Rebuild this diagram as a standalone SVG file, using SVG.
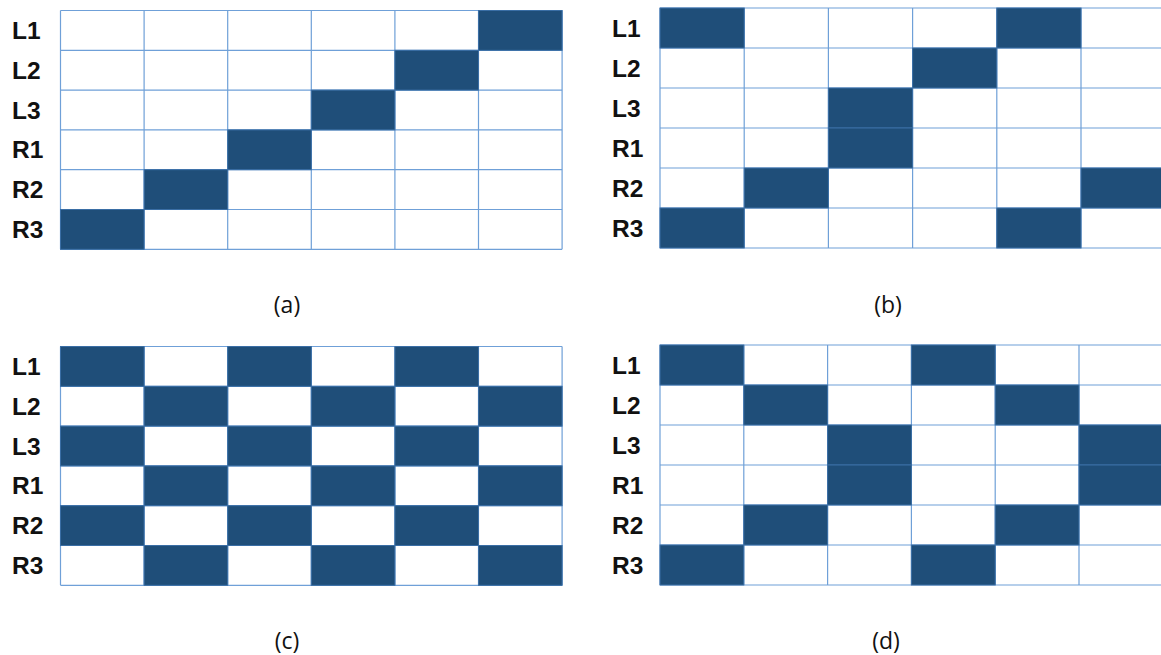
<svg xmlns="http://www.w3.org/2000/svg" width="1161" height="655" viewBox="0 0 1161 655">
<style>
.lbl{font-family:"Liberation Sans",Arial,sans-serif;font-weight:bold;font-size:24.5px;fill:#111}
.cap{font-family:"Open Sans","Liberation Sans",sans-serif;font-size:23px;fill:#111;text-anchor:middle}
.ln{stroke:#6FA0D8;stroke-width:1.2;fill:none}
.on{fill:#1F4E79;stroke:#3A6EA5;stroke-width:1}
</style>
<rect width="1161" height="655" fill="#fff"/>

<g id="grid-a" transform="translate(60.5,10.5)">
<g class="ln">
<path d="M0,0H501.6M0,39.8H501.6M0,79.6H501.6M0,119.4H501.6M0,159.2H501.6M0,199H501.6M0,238.8H501.6"/>
<path d="M0,0V238.8M83.6,0V238.8M167.2,0V238.8M250.8,0V238.8M334.4,0V238.8M418,0V238.8M501.6,0V238.8"/>
</g>
<rect class="on" x="418" y="0" width="83.6" height="39.8"/>
<rect class="on" x="334.4" y="39.8" width="83.6" height="39.8"/>
<rect class="on" x="250.8" y="79.6" width="83.6" height="39.8"/>
<rect class="on" x="167.2" y="119.4" width="83.6" height="39.8"/>
<rect class="on" x="83.6" y="159.2" width="83.6" height="39.8"/>
<rect class="on" x="0" y="199" width="83.6" height="39.8"/>
</g>
<g id="labels-a" class="lbl">
<text x="12" y="39">L1</text><text x="12" y="78.8">L2</text><text x="12" y="118.6">L3</text>
<text x="12" y="158.4">R1</text><text x="12" y="198.2">R2</text><text x="12" y="238">R3</text>
</g>
<text id="cap-a" class="cap" x="287" y="313">(a)</text>

<g id="grid-b" transform="translate(660,8)">
<g class="ln">
<path d="M0,0H510M0,40H510M0,80H510M0,120H510M0,160H510M0,200H510M0,240H510"/>
<path d="M0,0V240M84.2,0V240M168.4,0V240M252.6,0V240M336.8,0V240M421,0V240"/>
</g>
<rect class="on" x="0" y="0" width="84.2" height="40"/>
<rect class="on" x="336.8" y="0" width="84.2" height="40"/>
<rect class="on" x="252.6" y="40" width="84.2" height="40"/>
<rect class="on" x="168.4" y="80" width="84.2" height="40"/>
<rect class="on" x="168.4" y="120" width="84.2" height="40"/>
<rect class="on" x="84.2" y="160" width="84.2" height="40"/>
<rect class="on" x="421" y="160" width="90" height="40"/>
<rect class="on" x="0" y="200" width="84.2" height="40"/>
<rect class="on" x="336.8" y="200" width="84.2" height="40"/>
</g>
<g id="labels-b" class="lbl">
<text x="612" y="36.5">L1</text><text x="612" y="76.5">L2</text><text x="612" y="116.5">L3</text>
<text x="612" y="156.5">R1</text><text x="612" y="196.5">R2</text><text x="612" y="236.5">R3</text>
</g>
<text id="cap-b" class="cap" x="888" y="313">(b)</text>

<g id="grid-c" transform="translate(60.5,346.5)">
<g class="ln">
<path d="M0,0H501.6M0,39.8H501.6M0,79.6H501.6M0,119.4H501.6M0,159.2H501.6M0,199H501.6M0,238.8H501.6"/>
<path d="M0,0V238.8M83.6,0V238.8M167.2,0V238.8M250.8,0V238.8M334.4,0V238.8M418,0V238.8M501.6,0V238.8"/>
</g>
<rect class="on" x="0" y="0" width="83.6" height="39.8"/>
<rect class="on" x="167.2" y="0" width="83.6" height="39.8"/>
<rect class="on" x="334.4" y="0" width="83.6" height="39.8"/>
<rect class="on" x="83.6" y="39.8" width="83.6" height="39.8"/>
<rect class="on" x="250.8" y="39.8" width="83.6" height="39.8"/>
<rect class="on" x="418" y="39.8" width="83.6" height="39.8"/>
<rect class="on" x="0" y="79.6" width="83.6" height="39.8"/>
<rect class="on" x="167.2" y="79.6" width="83.6" height="39.8"/>
<rect class="on" x="334.4" y="79.6" width="83.6" height="39.8"/>
<rect class="on" x="83.6" y="119.4" width="83.6" height="39.8"/>
<rect class="on" x="250.8" y="119.4" width="83.6" height="39.8"/>
<rect class="on" x="418" y="119.4" width="83.6" height="39.8"/>
<rect class="on" x="0" y="159.2" width="83.6" height="39.8"/>
<rect class="on" x="167.2" y="159.2" width="83.6" height="39.8"/>
<rect class="on" x="334.4" y="159.2" width="83.6" height="39.8"/>
<rect class="on" x="83.6" y="199" width="83.6" height="39.8"/>
<rect class="on" x="250.8" y="199" width="83.6" height="39.8"/>
<rect class="on" x="418" y="199" width="83.6" height="39.8"/>
</g>
<g id="labels-c" class="lbl">
<text x="12" y="375">L1</text><text x="12" y="414.8">L2</text><text x="12" y="454.6">L3</text>
<text x="12" y="494.4">R1</text><text x="12" y="534.2">R2</text><text x="12" y="574">R3</text>
</g>
<text id="cap-c" class="cap" x="287" y="649">(c)</text>

<g id="grid-d" transform="translate(660,345)">
<g class="ln">
<path d="M0,0H510M0,40H510M0,80H510M0,120H510M0,160H510M0,200H510M0,240H510"/>
<path d="M0,0V240M83.8,0V240M167.6,0V240M251.4,0V240M335.2,0V240M419,0V240"/>
</g>
<rect class="on" x="0" y="0" width="83.8" height="40"/>
<rect class="on" x="251.4" y="0" width="83.8" height="40"/>
<rect class="on" x="83.8" y="40" width="83.8" height="40"/>
<rect class="on" x="335.2" y="40" width="83.8" height="40"/>
<rect class="on" x="167.6" y="80" width="83.8" height="40"/>
<rect class="on" x="419" y="80" width="90" height="40"/>
<rect class="on" x="167.6" y="120" width="83.8" height="40"/>
<rect class="on" x="419" y="120" width="90" height="40"/>
<rect class="on" x="83.8" y="160" width="83.8" height="40"/>
<rect class="on" x="335.2" y="160" width="83.8" height="40"/>
<rect class="on" x="0" y="200" width="83.8" height="40"/>
<rect class="on" x="251.4" y="200" width="83.8" height="40"/>
</g>
<g id="labels-d" class="lbl">
<text x="612" y="373.5">L1</text><text x="612" y="413.5">L2</text><text x="612" y="453.5">L3</text>
<text x="612" y="493.5">R1</text><text x="612" y="533.5">R2</text><text x="612" y="573.5">R3</text>
</g>
<text id="cap-d" class="cap" x="886" y="649">(d)</text>
</svg>
